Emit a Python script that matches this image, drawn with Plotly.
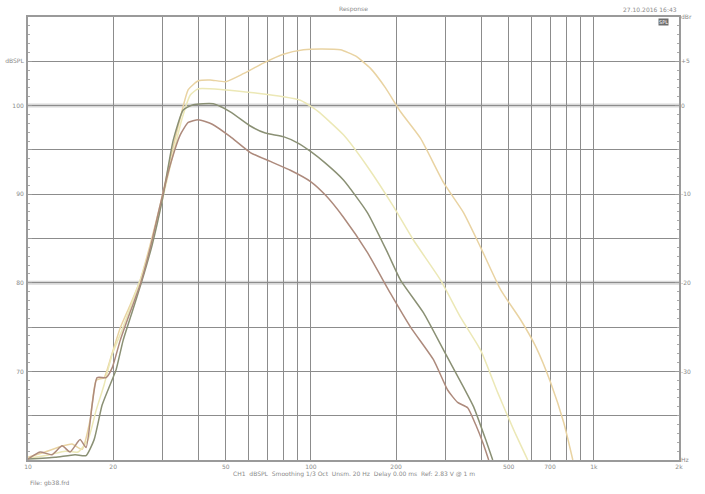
import plotly.graph_objects as go

# ---- data (frequency in Hz, level in dB) ----
freq_a = [10, 11.49, 12.98, 14.32, 15.53, 16.58, 17.41, 18.58, 19.51, 21.18, 22.97, 24.92, 27.03, 29.33,
          31.82, 34.52, 36.85, 40, 44.08, 50, 57.69, 67.89, 79.9, 94.1, 108.1, 127.2, 143.7, 162.4, 183.5,
          207.4, 244.1, 294.4, 346.6, 398, 468.7, 551.6, 623.4, 704.4, 783.1, 842.8]
spl_a = [60.3, 60.9, 61.5, 61.8, 61.2, 64.5, 69.0, 69.3, 71.3, 74.9, 77.5, 80.3, 84.3, 88.8,
         93.9, 98.6, 101.8, 102.8, 102.9, 102.7, 103.6, 104.8, 105.8, 106.3, 106.4, 106.3, 105.6, 104.2, 102.0,
         99.3, 96.3, 91.3, 87.9, 84.0, 79.2, 75.8, 72.8, 68.7, 64.2, 60.0]

freq_b = [10, 11.96, 13.52, 15.03, 16.31, 17.41, 18.58, 19.83, 21.51, 23.34, 25.32, 27.48, 29.81, 32.34,
          35.08, 37.46, 40, 49.0, 64.66, 79.9, 91.8, 105.4, 130.3, 158.5, 195.9, 230.6, 287.3, 338.1,
          398, 457.4, 520.9, 584.0]
spl_b = [60.2, 60.6, 61.0, 60.9, 62.3, 65.6, 68.5, 71.9, 74.7, 77.8, 80.9, 84.8, 89.3, 94.1,
         98.6, 101.2, 101.9, 101.8, 101.4, 101.0, 100.6, 99.4, 96.7, 93.1, 88.6, 84.8, 80.3, 76.1,
         72.4, 67.6, 63.4, 60.0]

freq_c = [10, 12.46, 14.67, 16.04, 17.13, 18.28, 19.51, 20.49, 21.69, 23.34, 25.32, 27.48, 29.81, 32.61,
          35.37, 38.38, 45.17, 51.88, 61.07, 69.0, 79.9, 89.6, 100, 112.5, 130.3, 158.5, 186.6, 207.4,
          250.1, 294.4, 346.6, 376.0, 414.7, 439.1]
spl_c = [60.1, 60.3, 60.6, 60.5, 62.3, 66.2, 68.5, 70.2, 73.5, 76.7, 80.3, 84.3, 89.3, 96.1,
         99.5, 100.1, 100.2, 99.3, 97.7, 96.9, 96.5, 95.8, 94.8, 93.5, 91.6, 87.9, 83.4, 80.3,
         76.6, 72.4, 68.2, 66.0, 62.3, 60.0]

freq_d = [10, 11.03, 12.16, 13.2, 14.08, 15.28, 16.04, 16.85, 17.55, 18.88, 19.83, 21.18, 22.97, 24.92,
          27.03, 29.33, 31.82, 34.52, 36.85, 40, 44.8, 51.88, 61.07, 71.9, 84.6, 100, 112.5, 130.3,
          158.5, 191.1, 225.0, 271.4, 304.2, 330.0, 358.1, 382.2, 408, 425]
spl_d = [60.1, 60.9, 60.6, 61.6, 60.9, 62.3, 61.4, 66.2, 69.3, 69.3, 70.4, 73.5, 76.7, 79.8,
         83.9, 88.8, 93.3, 96.7, 98.1, 98.4, 97.9, 96.5, 94.7, 93.7, 92.7, 91.4, 89.9, 87.4,
         83.4, 78.8, 75.0, 71.3, 67.9, 66.5, 65.9, 64.0, 61.7, 60.0]

x_tickvals = [10, 20, 50, 100, 200, 500, 700, 1000, 2000]
x_ticktext = ["10", "20", "50", "100", "200", "500", "700", "1k", "2k"]
x_gridvals = [20, 30, 40, 50, 60, 70, 80, 90, 100, 200, 300, 400, 500, 600, 700, 800, 900, 1000]

y_tickvals = [60, 65, 70, 75, 80, 85, 90, 95, 100, 105, 110]
y_ticktext = ["", "", "70", "", "80", "", "90", "", "100", "dBSPL", ""]
y2_tickvals = [60, 70, 80, 90, 100, 105, 110]
y2_ticktext = ["Hz", "-30", "-20", "-10", "0", "+5", "dBr"]
ref_lines = [100, 80]

colors = ["#e9d3a2", "#ece8b6", "#8a9074", "#ad8a7c"]

fig = go.Figure()
for f, s, c in zip([freq_a, freq_b, freq_c, freq_d], [spl_a, spl_b, spl_c, spl_d], colors):
    fig.add_trace(go.Scatter(x=f, y=s, mode="lines", line=dict(color=c, width=1.5, shape="spline", smoothing=0.5),
                             showlegend=False, hoverinfo="skip"))
# invisible trace to bind the right axis
fig.add_trace(go.Scatter(x=[10], y=[60], yaxis="y2", mode="markers", marker=dict(opacity=0),
                         showlegend=False, hoverinfo="skip"))

for v in ref_lines:
    fig.add_hline(y=v, line=dict(color="#d8d8d8", width=4), layer="below")

grid_col = "#8c8c8c"
tick_font = dict(family="DejaVu Sans", size=6, color="#8a8a8a")

fig.update_layout(
    width=705, height=494,
    margin=dict(l=28, r=26, t=17, b=34),
    paper_bgcolor="white", plot_bgcolor="white",
    showlegend=False,
    xaxis=dict(type="log", range=[1, 3.30103], tickmode="array", tickvals=x_tickvals, ticktext=x_ticktext,
               showgrid=False, tickfont=tick_font, ticks="", ticklabelstandoff=0, automargin=False,
               showline=True, linecolor="#9a9a9a", linewidth=2, mirror=True, zeroline=False,
               minor=dict(tickmode="array", tickvals=x_gridvals, showgrid=True, gridcolor=grid_col, gridwidth=1, ticks="")),
    yaxis=dict(range=[60, 110], tickmode="array", tickvals=y_tickvals, ticktext=y_ticktext,
               showgrid=True, gridcolor=grid_col, gridwidth=1, tickfont=tick_font, automargin=False,
               ticks="inside", ticklen=4, tickcolor="#9a9a9a", ticklabelstandoff=1,
               showline=True, linecolor="#9a9a9a", linewidth=2, mirror=True, zeroline=False,
               minor=dict(dtick=1, ticks="inside", ticklen=2, tickcolor="#aaaaaa", showgrid=False)),
    yaxis2=dict(range=[60, 110], overlaying="y", side="right", tickmode="array", tickvals=y2_tickvals,
                ticktext=y2_ticktext, showgrid=False, tickfont=tick_font, ticks="inside", ticklen=4,
                tickcolor="#9a9a9a", zeroline=False, automargin=False, ticklabelstandoff=1,
                minor=dict(dtick=1, ticks="inside", ticklen=2, tickcolor="#aaaaaa")),
)

small = dict(family="DejaVu Sans", size=6, color="#8a8a8a")
fig.add_annotation(text="Response", x=0.5, y=1, xref="paper", yref="paper", yshift=8, yanchor="middle",
                   showarrow=False, font=small)
fig.add_annotation(text="27.10.2016 16:43", x=1, y=1, xref="paper", yref="paper", xanchor="right",
                   yshift=8, yanchor="middle", showarrow=False, font=small)
fig.add_annotation(text="SPL", x=0.985, y=1, xref="paper", yref="paper", xanchor="right", yanchor="top",
                   yshift=-1, showarrow=False, font=dict(family="DejaVu Sans", size=5, color="#ffffff"),
                   bgcolor="#6e6e6e", borderpad=0)
fig.add_annotation(text="CH1  dBSPL  Smoothing 1/3 Oct  Unsm. 20 Hz  Delay 0.00 ms  Ref: 2.83 V @ 1 m",
                   x=0.5, y=0, xref="paper", yref="paper", yshift=-14, yanchor="middle",
                   showarrow=False, font=small)
fig.add_annotation(text="File: gb38.frd", x=0, y=0, xref="paper", yref="paper", xanchor="left",
                   yshift=-23, yanchor="middle", showarrow=False, font=small)

fig.write_html("out.html", config={"displayModeBar": False, "staticPlot": True},
               post_script="document.body.style.margin='0px';")
